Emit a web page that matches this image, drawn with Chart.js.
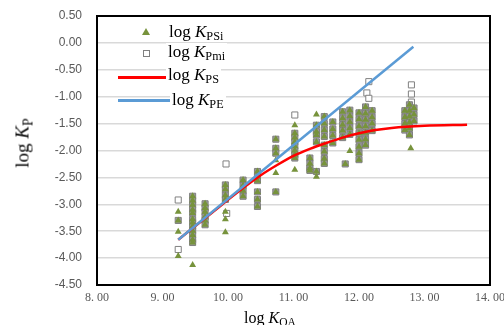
<!DOCTYPE html>
<html>
<head>
<meta charset="utf-8">
<script src="https://cdn.jsdelivr.net/npm/chart.js@4.4.1/dist/chart.umd.min.js"></script>
<style>
    body { margin: 0; background: #fff; }
    #wrap { position: relative; width: 504px; height: 325px; overflow: hidden; font-family: "Liberation Serif", "Times New Roman", serif; }
    #chart { position: absolute; left: 0; top: 0; }
    .lbl { position: absolute; white-space: nowrap; color: #000; line-height: 1; }
    .lbl i { font-style: italic; }
    .lbl sub { font-size: 0.72em; vertical-align: baseline; position: relative; top: 0.28em; }
    .leg { background: #fff; font-size: 17px; padding: 0 2px; }
    .mk { position: absolute; }
    .tri { width: 0; height: 0; border-left: 4px solid transparent; border-right: 4px solid transparent; border-bottom: 7px solid #77933c; }
    .sq { width: 5px; height: 5px; border: 1px solid #808080; background: #fff; }
    .ln { width: 50px; height: 3px; }
</style>
</head>
<body>
<div id="wrap">
    <canvas id="chart" width="504" height="325"></canvas>

    <div class="mk tri" style="left:142px; top:28px;"></div>
    <div class="lbl leg" style="left:167px; top:23px;">log <i>K</i><sub>PSi</sub></div>
    <div class="mk sq" style="left:143px; top:50px;"></div>
    <div class="lbl leg" style="left:166px; top:43px;">log <i>K</i><sub>Pmi</sub></div>
    <div class="mk ln" style="left:118px; top:76px; background:#ff0000;"></div>
    <div class="lbl leg" style="left:166px; top:66px;">log <i>K</i><sub>PS</sub></div>
    <div class="mk ln" style="left:118px; top:99px; width:52px; background:#5b9bd5;"></div>
    <div class="lbl leg" style="left:170px; top:91px;">log <i>K</i><sub>PE</sub></div>

    <div class="lbl" style="left:22px; top:143px; font-size:19px; transform: translate(-50%, -50%) rotate(-90deg);">log <i>K</i><sub>P</sub></div>
    <div class="lbl" style="left:244px; top:310px; font-size:16px;">log <i>K</i><sub>OA</sub></div>
</div>

<script>
// --- DATA ---
// log K_PSi, triangles
const psiX = [
    9.24, 9.24, 9.24, 9.24,
    9.46, 9.46, 9.46, 9.46, 9.46, 9.46, 9.46, 9.46, 9.46, 9.46, 9.46, 9.46, 9.46,
    9.65, 9.65, 9.65, 9.65, 9.65, 9.65,
    9.96, 9.96, 9.96, 9.96, 9.96, 9.96, 9.96,
    10.23, 10.23, 10.23, 10.23,
    10.45, 10.45, 10.45, 10.45, 10.45, 10.45,
    10.73, 10.73, 10.73, 10.73, 10.73, 10.73,
    11.02, 11.02, 11.02, 11.02, 11.02, 11.02, 11.02, 11.02, 11.02,
    11.25, 11.25, 11.25, 11.25,
    11.35, 11.35, 11.35, 11.35, 11.35, 11.35, 11.35,
    11.47, 11.47, 11.47, 11.47, 11.47, 11.47, 11.47, 11.47,
    11.60, 11.60, 11.60, 11.60,
    11.75, 11.75, 11.75, 11.75, 11.75, 11.79,
    11.86, 11.86, 11.86, 11.86, 11.86, 11.86,
    12.00, 12.00, 12.00, 12.00, 12.00, 12.00, 12.00, 12.00,
    12.10, 12.10, 12.10, 12.10, 12.10, 12.10, 12.10,
    12.20, 12.20, 12.20, 12.20,
    12.70, 12.70, 12.70, 12.70,
    12.77, 12.77, 12.77, 12.77, 12.77, 12.77, 12.79,
    12.84, 12.84, 12.84
];
const psiY = [
    -3.14, -3.30, -3.51, -3.96,
    -2.85, -2.93, -3.01, -3.10, -3.16, -3.28, -3.34, -3.41, -3.49, -3.57, -3.66, -3.71, -4.13,
    -2.99, -3.07, -3.14, -3.23, -3.30, -3.38,
    -2.64, -2.72, -2.83, -2.91, -3.14, -3.28, -3.52,
    -2.55, -2.65, -2.75, -2.85,
    -2.39, -2.49, -2.56, -2.77, -2.91, -3.04,
    -1.79, -1.96, -2.05, -2.18, -2.42, -2.77,
    -1.53, -1.68, -1.76, -1.84, -1.92, -2.00, -2.08, -2.14, -2.36,
    -2.14, -2.24, -2.33, -2.37,
    -1.33, -1.53, -1.65, -1.71, -1.84, -2.39, -2.49,
    -1.37, -1.50, -1.62, -1.74, -1.90, -2.02, -2.15, -2.24,
    -1.47, -1.60, -1.72, -1.86,
    -1.28, -1.40, -1.52, -1.63, -1.76, -2.25,
    -1.25, -1.36, -1.47, -1.58, -1.70, -2.01,
    -1.30, -1.42, -1.55, -1.68, -1.80, -1.93, -2.05, -2.17,
    -1.19, -1.31, -1.43, -1.55, -1.67, -1.79, -1.90,
    -1.26, -1.38, -1.50, -1.63,
    -1.26, -1.38, -1.50, -1.62,
    -1.15, -1.26, -1.37, -1.48, -1.59, -1.71, -1.96,
    -1.21, -1.33, -1.45
];

// log K_Pmi, hollow squares
const pmiX = [
    9.24, 9.24, 9.24,
    9.46, 9.46, 9.46, 9.46, 9.46, 9.46, 9.46, 9.46, 9.46, 9.46, 9.46, 9.46,
    9.65, 9.65, 9.65, 9.65, 9.65, 9.65,
    9.97, 9.96, 9.96, 9.96, 9.96, 9.98,
    10.23, 10.23, 10.23, 10.23,
    10.45, 10.45, 10.45, 10.45, 10.45, 10.45,
    10.73, 10.73, 10.73, 10.73,
    11.02, 11.02, 11.02, 11.02, 11.02, 11.02, 11.02, 11.02,
    11.25, 11.25, 11.25, 11.25,
    11.35, 11.35, 11.35, 11.35, 11.35,
    11.47, 11.47, 11.47, 11.47, 11.47, 11.47, 11.47, 11.47,
    11.60, 11.60, 11.60, 11.60,
    11.75, 11.75, 11.75, 11.75, 11.75, 11.79,
    11.86, 11.86, 11.86, 11.86, 11.86,
    12.00, 12.00, 12.00, 12.00, 12.00, 12.00, 12.00, 12.00,
    12.15, 12.12, 12.15,
    12.10, 12.10, 12.10, 12.10, 12.10, 12.10, 12.10,
    12.20, 12.20, 12.20, 12.20,
    12.70, 12.70, 12.70, 12.70,
    12.80, 12.80, 12.80,
    12.77, 12.77, 12.77, 12.77, 12.77, 12.77,
    12.84, 12.84, 12.84
];
const pmiY = [
    -2.92, -3.30, -3.84,
    -2.85, -2.93, -3.01, -3.10, -3.16, -3.28, -3.34, -3.41, -3.49, -3.57, -3.66, -3.71,
    -2.99, -3.07, -3.14, -3.23, -3.30, -3.38,
    -2.25, -2.64, -2.72, -2.83, -2.91, -3.17,
    -2.55, -2.65, -2.75, -2.85,
    -2.39, -2.49, -2.56, -2.77, -2.91, -3.04,
    -1.79, -1.96, -2.05, -2.77,
    -1.34, -1.68, -1.76, -1.84, -1.92, -2.00, -2.08, -2.14,
    -2.14, -2.24, -2.33, -2.37,
    -1.53, -1.65, -1.71, -1.84, -2.39,
    -1.37, -1.50, -1.62, -1.74, -1.90, -2.02, -2.15, -2.24,
    -1.47, -1.60, -1.72, -1.86,
    -1.28, -1.40, -1.52, -1.63, -1.76, -2.25,
    -1.25, -1.36, -1.47, -1.58, -1.70,
    -1.30, -1.42, -1.55, -1.68, -1.80, -1.93, -2.05, -2.17,
    -0.72, -0.93, -1.03,
    -1.19, -1.31, -1.43, -1.55, -1.67, -1.79, -1.90,
    -1.26, -1.38, -1.50, -1.63,
    -1.26, -1.38, -1.50, -1.62,
    -0.78, -0.95, -1.10,
    -1.15, -1.26, -1.37, -1.48, -1.59, -1.71,
    -1.21, -1.33, -1.45
];

// log K_PS, steady-state curve
const psX = [9.24, 9.75, 10.25, 10.5, 10.75, 11.0, 11.25, 11.5, 11.75, 12.0, 12.25, 12.5, 13.0, 13.65];
const psY = [-3.66, -3.16, -2.68, -2.46, -2.27, -2.10, -1.97, -1.86, -1.76, -1.68, -1.62, -1.58, -1.54, -1.52];

// log K_PE, equilibrium line
const peX = [9.24, 12.83];
const peY = [-3.66, -0.07];

const xTicks = [8, 9, 10, 11, 12, 13, 14];
const yMin = -4.5, yMax = 0.5, yStep = 0.5;

const toPoints = (xs, ys) => xs.map((x, i) => ({ x: x, y: ys[i] }));

// a square that sits on a triangle looks filled grey in the original
const hasTriangle = p => psiX.some((x, i) => x === p.x && psiY[i] === p.y);
const pmiPoints = toPoints(pmiX, pmiY);
const pmiFill = pmiPoints.map(p => hasTriangle(p) ? '#999999' : '#ffffff');

// black box round the plot area
const plotBorder = {
    id: 'plotBorder',
    beforeDatasetsDraw(chart) {
        const a = chart.chartArea;
        const ctx = chart.ctx;
        ctx.save();
        ctx.strokeStyle = '#000';
        ctx.lineWidth = 2;
        ctx.strokeRect(a.left, a.top, a.right - a.left, a.bottom - a.top);
        ctx.restore();
    }
};

const ctx = document.getElementById('chart').getContext('2d');
new Chart(ctx, {
    type: 'scatter',
    data: {
        datasets: [
            {
                label: 'log KPE',
                data: toPoints(peX, peY),
                showLine: true,
                borderColor: '#5b9bd5',
                borderWidth: 2.5,
                pointRadius: 0,
                order: 0
            },
            {
                label: 'log KPS',
                data: toPoints(psX, psY),
                showLine: true,
                borderColor: '#ff0000',
                borderWidth: 2.5,
                pointRadius: 0,
                cubicInterpolationMode: 'monotone',
                order: 1
            },
            {
                label: 'log KPSi',
                data: toPoints(psiX, psiY),
                pointStyle: 'triangle',
                pointRadius: 4,
                backgroundColor: '#77933c',
                borderColor: '#77933c',
                borderWidth: 0,
                order: 2
            },
            {
                label: 'log KPmi',
                data: pmiPoints,
                pointStyle: 'rect',
                pointRadius: 4.3,
                backgroundColor: pmiFill,
                borderColor: '#808080',
                borderWidth: 1,
                order: 3
            }
        ]
    },
    options: {
        responsive: false,
        animation: false,
        devicePixelRatio: 1,
        layout: { padding: { left: 0, top: 16, right: 14, bottom: 0 } },
        plugins: {
            legend: { display: false },
            tooltip: { enabled: false }
        },
        scales: {
            x: {
                type: 'linear',
                min: 8,
                max: 14,
                afterBuildTicks: s => { s.ticks = xTicks.map(v => ({ value: v })); },
                afterFit: s => { s.height = 40; s.paddingLeft = 0; s.paddingRight = 0; },
                grid: { display: false, drawTicks: false },
                border: { display: false },
                ticks: {
                    padding: 6,
                    color: '#595959',
                    font: { family: '"Liberation Serif", serif', size: 12 },
                    callback: v => v.toFixed(2).replace('.', '. ')
                }
            },
            y: {
                min: yMin,
                max: yMax,
                afterFit: s => { s.width = 97; s.paddingTop = 0; s.paddingBottom = 0; },
                grid: { color: '#d9d9d9', lineWidth: 1.5, drawTicks: false },
                border: { display: false },
                ticks: {
                    stepSize: yStep,
                    padding: 15,
                    color: '#595959',
                    font: { family: '"Liberation Sans", sans-serif', size: 12 },
                    callback: v => v.toFixed(2)
                }
            }
        }
    },
    plugins: [plotBorder]
});
</script>
</body>
</html>
